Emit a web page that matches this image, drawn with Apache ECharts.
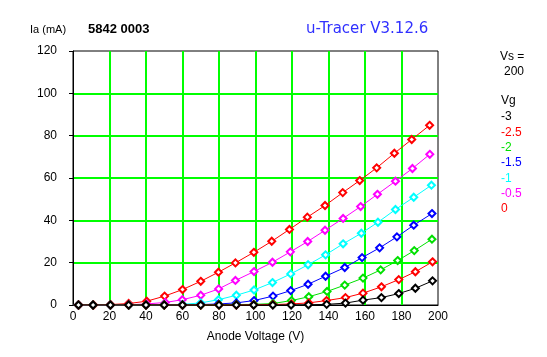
<!DOCTYPE html>
<html><head><meta charset="utf-8">
<script src="https://cdn.jsdelivr.net/npm/echarts@6/dist/echarts.min.js"></script>
<style>html,body{margin:0;padding:0;background:#fff}#c{width:547px;height:357px}</style>
</head><body><div id="c"></div>
<script>
var vgLabels = ['-3', '-2.5', '-2', '-1.5', '-1', '-0.5', '0'];
var colors = ['#000000', '#ff0000', '#00e000', '#0000ff', '#00ffff', '#ff00ff', '#ff0000'];
var xTicks = [0, 20, 40, 60, 80, 100, 120, 140, 160, 180, 200];
var yTicks = [0, 20, 40, 60, 80, 100, 120];

var vA_m3   = [3, 11, 20.5, 30.5, 40, 50, 60, 70, 80, 89.5, 99, 109.5, 119.5, 129, 139, 149.3, 158.9, 169, 178.5, 187.6, 197];
var iA_m3   = [0, 0, 0, 0, 0, 0, 0, 0, 0, 0, 0, 0, 0, 0.1, 0.3, 0.9, 2.3, 3.5, 5.4, 7.9, 11.4];
var vA_m25  = [3, 11, 20.5, 30.5, 40, 50, 60, 70, 80, 89.5, 99, 109.5, 119.7, 129.2, 138.9, 149.3, 158.9, 169, 178.5, 187.6, 197];
var iA_m25  = [0, 0, 0, 0, 0, 0, 0, 0, 0, 0, 0.1, 0.2, 0.5, 1.0, 2.1, 3.5, 5.6, 8.6, 12.0, 15.7, 20.4];
var vA_m2   = [3, 11, 20.5, 30.5, 40, 50, 60, 70, 80, 89.5, 99.2, 109.6, 119.7, 129.2, 139.2, 148.9, 158.9, 168.6, 177.9, 187, 196.7];
var iA_m2   = [0, 0, 0, 0, 0, 0, 0, 0, 0.1, 0.2, 0.3, 0.7, 2.1, 3.9, 6.4, 9.4, 12.7, 16.6, 21.0, 25.7, 31.1];
var vA_m15  = [3, 11, 20.5, 30.5, 40, 50, 60, 70, 79.7, 89.5, 99.2, 109.6, 119.3, 128.8, 138.4, 148.9, 158.4, 168, 177.5, 186.7, 196.7];
var iA_m15  = [0, 0, 0, 0, 0, 0, 0, 0.2, 0.5, 1.0, 2.1, 4.2, 6.8, 9.8, 13.6, 17.7, 22.4, 27.0, 32.2, 37.7, 43.2];
var vA_m1   = [3, 11, 20.5, 30.5, 40, 50, 60, 70, 79.7, 89.5, 99.2, 109.3, 119.3, 128.8, 138.4, 148, 158, 167.1, 176.7, 186.7, 196.4];
var iA_m1   = [0, 0, 0, 0, 0, 0.1, 0.3, 1.0, 2.5, 4.6, 7.1, 10.6, 14.7, 19.0, 23.7, 28.9, 33.9, 39.1, 45.1, 50.9, 56.6];
var vA_m05  = [3, 11, 20.5, 30.5, 40.4, 50.6, 59.9, 70, 79.8, 89, 99.2, 109.3, 119.1, 128.6, 138.1, 148, 157.6, 166.8, 176.7, 186, 195.5];
var iA_m05  = [0, 0, 0, 0.1, 0.5, 1.2, 2.5, 4.6, 7.6, 11.6, 15.8, 20.2, 25.1, 30.0, 35.3, 40.9, 46.5, 52.3, 58.5, 64.5, 71.2];
var vA_0    = [3.1, 11.3, 20.5, 30.5, 40.4, 50.2, 60, 70, 79.7, 89, 99.1, 108.9, 118.6, 128.4, 138.1, 147.8, 157.1, 166.4, 176.1, 185.6, 195.4];
var iA_0    = [0, 0, 0.2, 0.7, 1.8, 4.2, 7.3, 11.2, 15.5, 19.9, 24.9, 30.1, 35.7, 41.5, 47.0, 53.1, 58.8, 64.8, 71.7, 78.2, 84.9];

var voltSets = [vA_m3, vA_m25, vA_m2, vA_m15, vA_m1, vA_m05, vA_0];
var currSets = [iA_m3, iA_m25, iA_m2, iA_m15, iA_m1, iA_m05, iA_0];

var font = '"Liberation Sans", Arial, sans-serif';
var series = voltSets.map(function (vs, k) {
  return {
    type: 'line', name: vgLabels[k],
    data: vs.map(function (v, i) { return [v, currSets[k][i]]; }),
    symbol: 'emptyDiamond', symbolSize: 7,
    lineStyle: { color: colors[k], width: 1 },
    itemStyle: { color: colors[k], borderColor: colors[k], borderWidth: 1 },
    animation: false, z: 3 + (6 - k)
  };
});

var graphics = [
  { type: 'text', left: 30, top: 24, style: { text: 'Ia (mA)', font: '11px ' + font, fill: '#000' } },
  { type: 'text', left: 88, top: 23, style: { text: '5842 0003', font: 'bold 13px ' + font, fill: '#000' } },
  { type: 'text', left: 306, top: 22, style: { text: 'u-Tracer V3.12.6', font: '15px "DejaVu Sans", sans-serif', fill: '#3030ff' } },
  { type: 'text', left: 500, top: 51, style: { text: 'Vs =', font: '12px ' + font, fill: '#000' } },
  { type: 'text', left: 504, top: 66, style: { text: '200', font: '12px ' + font, fill: '#000' } },
  { type: 'text', left: 501, top: 95, style: { text: 'Vg', font: '12px ' + font, fill: '#000' } }
];
vgLabels.forEach(function (lab, k) {
  graphics.push({ type: 'text', left: 501, top: 111 + k * 15.3,
    style: { text: lab, font: '12px ' + font, fill: colors[k] } });
});

var chart = echarts.init(document.getElementById('c'), null, { renderer: 'canvas' });
chart.setOption({
  backgroundColor: '#fff',
  animation: false,
  grid: { left: 73, right: 109, top: 51, bottom: 52, show: true, borderColor: '#000', borderWidth: 1, backgroundColor: 'transparent' },
  xAxis: {
    type: 'value', min: xTicks[0], max: xTicks[xTicks.length - 1], interval: 20,
    name: 'Anode Voltage (V)', nameLocation: 'middle', nameGap: 26,
    nameTextStyle: { color: '#000', fontSize: 12, fontFamily: font },
    axisLine: { lineStyle: { color: '#000', width: 1 } },
    axisTick: { show: false },
    axisLabel: { color: '#000', fontSize: 12, fontFamily: font, margin: 6 },
    splitLine: { show: true, showMinLine: false, showMaxLine: false, lineStyle: { color: '#00ff00', width: 2 } }
  },
  yAxis: {
    type: 'value', min: yTicks[0], max: yTicks[yTicks.length - 1], interval: 20,
    axisLine: { show: true, lineStyle: { color: '#000', width: 1 } },
    axisTick: { show: true, length: 4, lineStyle: { color: '#000' } },
    axisLabel: { color: '#000', fontSize: 12, fontFamily: font, margin: 16 },
    splitLine: { show: true, showMinLine: false, showMaxLine: false, lineStyle: { color: '#00ff00', width: 2 } }
  },
  graphic: graphics,
  series: series
});
</script></body></html>
